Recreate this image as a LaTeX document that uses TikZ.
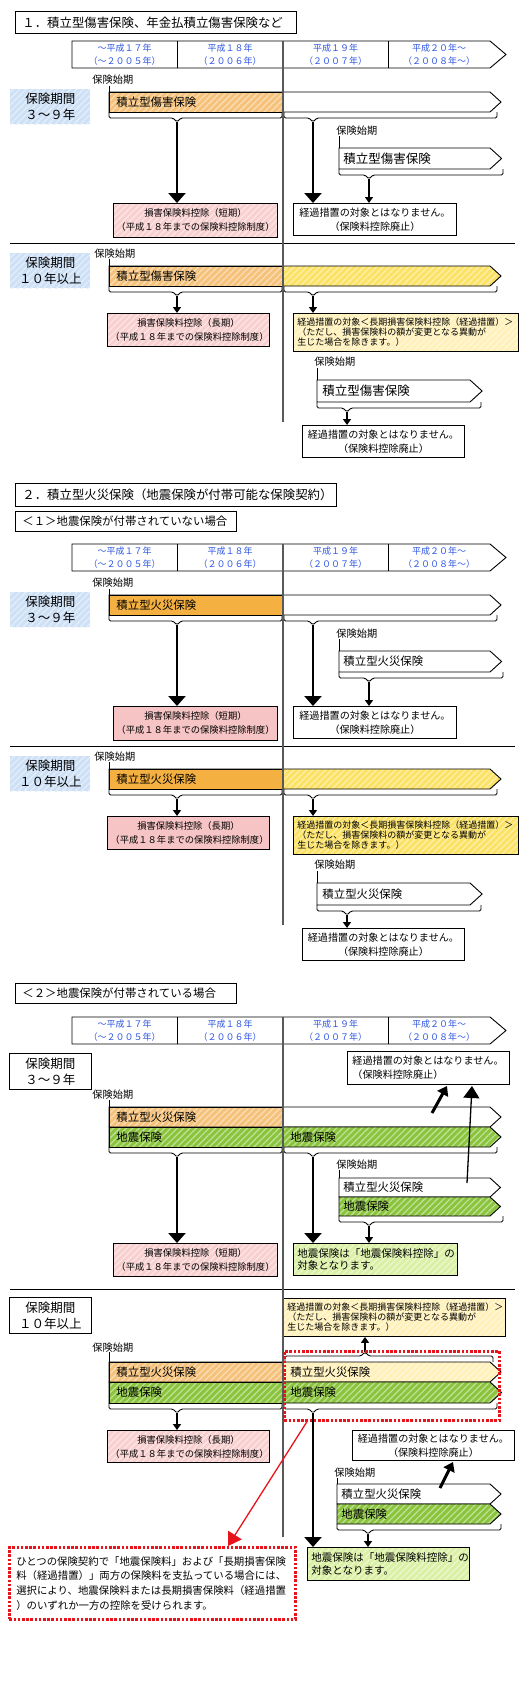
\documentclass[tikz,border=0pt]{standalone}
\usepackage{fontspec}
\setmainfont{Noto Sans CJK JP}
\usetikzlibrary{arrows.meta,patterns.meta}

\definecolor{yearblue}{RGB}{45,85,225}
\definecolor{labblue}{RGB}{205,224,246}
\definecolor{orangeL}{RGB}{246,194,122}
\definecolor{orangeS}{RGB}{244,177,66}
\definecolor{pinkL}{RGB}{249,208,208}
\definecolor{pinkS}{RGB}{246,196,196}
\definecolor{yellowS}{RGB}{252,226,100}
\definecolor{yellowL}{RGB}{255,241,185}
\definecolor{grn}{RGB}{138,196,60}
\definecolor{grnL}{RGB}{218,241,165}
\definecolor{redline}{RGB}{232,20,28}

\newcommand\yeartl[1]{%
  \path[draw, fill=white] (72,#1) -- (490,#1) -- (506,#1+13.5) -- (490,#1+27) -- (72,#1+27) -- cycle;
  \draw (177,#1) -- (177,#1+27) (388,#1) -- (388,#1+27);
  \node (y1) [yeartext] at (124.5,#1+13.5) {～平成１７年\\（～２００５年）};
  \node (y2) [yeartext] at (230,#1+13.5) {平成１８年\\（２００６年）};
  \node (y3) [yeartext] at (335.5,#1+13.5) {平成１９年\\（２００７年）};
  \node (y4) [yeartext] at (439,#1+13.5) {平成２０年～\\（２００８年～）};
}
\newcommand\tipbar[5]{%
  \path[draw, #5] (#1,#3) -- (#2,#3) -- ({#2+0.55*(#4-#3)},{(#3+#4)/2}) -- (#2,#4) -- (#1,#4) -- cycle;
}
\newcommand\bkt[5]{%
  \draw[rounded corners=1.5pt] (#1,#4) -- (#1,#4+6) -- (#3-4,#4+6) -- (#3,#4+10) -- (#3+4,#4+6) -- (#2,#4+6) -- (#2,#4);
  \coordinate (#5) at (#3,#4+10);
}
% one plan without earthquake cover: shift, kind, colours, prefix, small bar text
\newcommand\plancase[8]{%
\begin{scope}[shift={(0,#1)}, name prefix=#7-]
  \yeartl{41}
  \node (lab1) [bluelab] at (10,89) {保険期間\\３～９年};
  \node (st1) [start] at (92,80) {保険始期};
  \draw (109,86) -- (109,92);
  \tipbar{109}{490}{92}{112}{fill=white}
  \path[draw, #3] (109,92) rectangle (283,112);
  \node (b1) [bartext] at (116,102) {積立型#2保険};
  \bkt{109}{282}{177}{112}{k1}
  \bkt{284}{497}{313}{112}{k2}
  \node (st2) [start] at (336,131) {保険始期};
  \draw (339,136) -- (339,148);
  \tipbar{339}{490}{148}{169}{fill=white}
  \node (b2) [#8] at (343,158.5) {積立型#2保険};
  \bkt{339}{503}{369}{169}{k3}
  \node (p1) [box, #5, text width=158pt, minimum height=34pt] at (113,203) {損害保険料控除（短期）\\（平成１８年までの保険料控除制度）};
  \node (n1) [nbox, text width=157pt, minimum height=32pt] at (293,203) {経過措置の対象とはなりません。\\（保険料控除廃止）};
  \draw[bigarrow] (k1) -- (k1 |- p1.north);
  \draw[bigarrow] (k2) -- (k2 |- n1.north);
  \draw[smallarrow] (k3) -- (k3 |- n1.north);
  \draw (10,243) -- (515,243);
  \node (lab2) [bluelab] at (10,253) {保険期間\\１０年以上};
  \node (st3) [start] at (94,254) {保険始期};
  \draw (109,259) -- (109,266);
  \tipbar{109}{490}{266}{286}{#4}
  \path[draw, #3] (109,266) rectangle (283,286);
  \node (b3) [bartext] at (116,276) {積立型#2保険};
  \bkt{109}{282}{177}{286}{k4}
  \bkt{284}{497}{313}{286}{k5}
  \node (p2) [box, #5, text width=156pt, minimum height=33pt] at (107,313) {損害保険料控除（長期）\\（平成１８年までの保険料控除制度）};
  \node (e1) [ebox, #6, text width=217pt, minimum height=38pt] at (293,313) {経過措置の対象＜長期損害保険料控除（経過措置）＞\\（ただし、損害保険料の額が変更となる異動が\\生じた場合を除きます。）};
  \node (st4) [start] at (314,362) {保険始期};
  \draw (317,368) -- (317,380);
  \tipbar{317}{470}{380}{402}{fill=white}
  \node (b4) [#8] at (322,391) {積立型#2保険};
  \bkt{317}{481}{347}{402}{k6}
  \node (n2) [nbox, text width=156pt, minimum height=32pt] at (302,425) {経過措置の対象とはなりません。\\（保険料控除廃止）};
  \draw[smallarrow] (k4) -- (k4 |- p2.north);
  \draw[smallarrow] (k5) -- (k5 |- e1.north);
  \draw[smallarrow] (k6) -- (k6 |- n2.north);
  \draw[midline] (283,41) -- (283,422);
\end{scope}}

\begin{document}
\begin{tikzpicture}[x=1pt, y=-1pt, line width=0.9pt,
    yeartext/.style={text=yearblue, align=center, inner sep=0pt, font=\fontsize{9}{12.3}\selectfont},
    start/.style={anchor=west, inner sep=0pt, font=\fontsize{10.2}{12}\selectfont},
    bartext/.style={anchor=west, inner sep=0pt, font=\fontsize{11.4}{13}\selectfont},
    bigtext/.style={anchor=west, inner sep=0pt, font=\fontsize{12.5}{14}\selectfont},
    hatch/.style={preaction={fill=#1}, preaction={pattern={Lines[angle=45,distance=4.5pt,line width=1.3pt]}, pattern color=#1!55!white}},
    box/.style={draw, anchor=north west, inner xsep=3pt, inner ysep=0pt, align=center, font=\fontsize{9.3}{14}\selectfont},
    nbox/.style={box, font=\fontsize{10.1}{14}\selectfont},
    ebox/.style={box, align=left, inner xsep=4pt, font=\fontsize{9}{10}\selectfont},
    gbox/.style={box, hatch=grnL, align=left, inner xsep=4pt, font=\fontsize{10.5}{12.5}\selectfont},
    bluelab/.style={hatch=labblue, anchor=north west, inner sep=0pt, text width=80pt, minimum height=35pt, align=center, font=\fontsize{12.5}{16}\selectfont},
    whitelab/.style={draw, anchor=north west, inner sep=0pt, text width=82pt, minimum height=36pt, align=center, font=\fontsize{12.5}{16}\selectfont},
    titlebox/.style={draw, anchor=north west, inner xsep=7pt, inner ysep=0pt, align=left, font=\fontsize{12.4}{14}\selectfont},
    subbox/.style={titlebox, font=\fontsize{11.4}{13}\selectfont},
    midline/.style={draw=black!65, line width=1.1pt},
    bigarrow/.style={line width=2.8pt, -{Triangle[width=17pt,length=10pt]}},
    smallarrow/.style={line width=2pt, -{Triangle[width=8pt,length=6pt]}},
    thickup/.style={line width=3pt, -{Triangle[width=12pt,length=9pt]}},
    thinup/.style={line width=1.3pt, -{Triangle[width=16pt,length=12pt]}},
    reddot/.style={draw=redline, line width=2.6pt, dash pattern=on 2.6pt off 1.6pt},
    notebox/.style={reddot, anchor=north west, inner xsep=7pt, inner ysep=0pt, text width=272pt, minimum height=72pt, align=left, font=\fontsize{10.4}{14.6}\selectfont},
    redarrow/.style={draw=redline, line width=1.3pt, -{Triangle[width=16pt,length=13pt]}}]
  \useasboundingbox (0,0) rectangle (519,1700);

  \node (h1) [titlebox, text width=267pt, minimum height=22pt] at (15,11) {１．積立型傷害保険、年金払積立傷害保険など};
  \plancase{0}{傷害}{hatch=orangeL}{hatch=yellowS}{hatch=pinkL}{hatch=yellowL}{a}{bigtext}

  \node (h2) [titlebox, text width=307pt, minimum height=23pt] at (15,483) {２．積立型火災保険（地震保険が付帯可能な保険契約）};
  \node (h3) [subbox, text width=207pt, minimum height=20pt] at (15,511) {＜１＞地震保険が付帯されていない場合};
  \plancase{503}{火災}{fill=orangeS}{hatch=yellowS}{fill=pinkS}{hatch=yellowS}{b}{bartext}

  \node (h4) [subbox, text width=207pt, minimum height=20pt] at (15,983) {＜２＞地震保険が付帯されている場合};
  \begin{scope}[name prefix=c-]
    \yeartl{1017}
    \node (lab1) [whitelab] at (9,1053) {保険期間\\３～９年};
    \node (n1) [nbox, align=left, inner xsep=5pt, text width=152pt, minimum height=33pt] at (347,1051) {経過措置の対象とはなりません。\\（保険料控除廃止）};
    \node (st1) [start] at (92,1095) {保険始期};
    \draw (109,1100) -- (109,1107);
    \tipbar{109}{490}{1107}{1127}{fill=white}
    \path[draw, hatch=orangeL] (109,1107) rectangle (283,1127);
    \tipbar{109}{490}{1127}{1147}{hatch=grn}
    \path[draw, hatch=grn] (109,1127) rectangle (283,1147);
    \node (f1) [bartext] at (116,1117) {積立型火災保険};
    \node (q1) [bartext] at (116,1137) {地震保険};
    \node (q2) [bartext] at (290,1137) {地震保険};
    \bkt{109}{282}{177}{1147}{k1}
    \bkt{284}{497}{313}{1147}{k2}
    \node (st2) [start] at (336,1165) {保険始期};
    \draw (339,1170) -- (339,1178);
    \tipbar{339}{490}{1178}{1197}{fill=white}
    \tipbar{339}{490}{1197}{1216}{hatch=grn}
    \node (f2) [bartext] at (343,1187.5) {積立型火災保険};
    \node (q3) [bartext] at (343,1206.5) {地震保険};
    \bkt{339}{503}{369}{1216}{k3}
    \node (p1) [box, hatch=pinkL, text width=158pt, minimum height=33pt] at (113,1243) {損害保険料控除（短期）\\（平成１８年までの保険料控除制度）};
    \node (g1) [gbox, text width=156pt, minimum height=32pt] at (293,1243) {地震保険は「地震保険料控除」の\\対象となります。};
    \draw[bigarrow] (k1) -- (k1 |- p1.north);
    \draw[bigarrow] (k2) -- (k2 |- g1.north);
    \draw[smallarrow] (k3) -- (k3 |- g1.north);
    \coordinate (u1) at (432,1113);
    \coordinate (u2) at (447,1086);
    \coordinate (u3) at (467,1183);
    \coordinate (u4) at (472,1086);
    \draw[thickup] (u1) -- (u2);
    \draw[thinup] (u3) -- (u4);

    \draw (10,1289) -- (515,1289);
    \node (lab2) [whitelab] at (9,1297) {保険期間\\１０年以上};
    \node (e1) [ebox, hatch=yellowL, text width=214pt, minimum height=38pt] at (283,1298) {経過措置の対象＜長期損害保険料控除（経過措置）＞\\（ただし、損害保険料の額が変更となる異動が\\生じた場合を除きます。）};
    \node (st3) [start] at (92,1348) {保険始期};
    \draw (109,1352) -- (109,1362);
    \tipbar{109}{490}{1362}{1382}{hatch=yellowL}
    \path[draw, hatch=orangeL] (109,1362) rectangle (283,1382);
    \tipbar{109}{490}{1382}{1403}{hatch=grn}
    \path[draw, hatch=grn] (109,1382) rectangle (283,1403);
    \node (f3) [bartext] at (116,1372) {積立型火災保険};
    \node (f4) [bartext] at (290,1372) {積立型火災保険};
    \node (q4) [bartext] at (116,1392.5) {地震保険};
    \node (q5) [bartext] at (290,1392.5) {地震保険};
    \draw[rounded corners=1.5pt] (285,1362) -- (285,1356) -- (361,1356) -- (365,1352) -- (369,1356) -- (493,1356) -- (493,1362);
    \coordinate (k4) at (365,1352);
    \draw[smallarrow] (k4) -- (k4 |- e1.south);
    \bkt{109}{282}{177}{1403}{k5}
    \bkt{284}{497}{313}{1403}{k6}
    \node (p2) [box, hatch=pinkL, text width=156pt, minimum height=32pt] at (107,1430) {損害保険料控除（長期）\\（平成１８年までの保険料控除制度）};
    \node (n2) [nbox, text width=156pt, minimum height=30pt] at (352,1430) {経過措置の対象とはなりません。\\（保険料控除廃止）};
    \node (st4) [start] at (334,1473) {保険始期};
    \draw (337,1478) -- (337,1484);
    \tipbar{337}{490}{1484}{1504}{fill=white}
    \tipbar{337}{490}{1504}{1524}{hatch=grn}
    \node (f5) [bartext] at (341,1494) {積立型火災保険};
    \node (q6) [bartext] at (341,1514) {地震保険};
    \bkt{337}{501}{368}{1524}{k7}
    \node (g2) [gbox, text width=154pt, minimum height=33pt] at (307,1547) {地震保険は「地震保険料控除」の\\対象となります。};
    \draw[smallarrow] (k5) -- (k5 |- p2.north);
    \draw[smallarrow] (k7) -- (k7 |- g2.north);
    \draw[bigarrow] (k6) -- (k6 |- g2.north);
    \coordinate (u5) at (440,1488);
    \coordinate (u6) at (453,1462);
    \draw[thickup] (u5) -- (u6);
    \draw[midline] (283,1017) -- (283,1537);
    \node (sel) [reddot, anchor=north west, inner sep=0pt, minimum width=215pt, minimum height=69pt] at (283,1350) {};
    \node (note) [notebox] at (8,1546) {ひとつの保険契約で「地震保険料」および「長期損害保険\\料（経過措置）」両方の保険料を支払っている場合には、\\選択により、地震保険料または長期損害保険料（経過措置\\）のいずれか一方の控除を受けられます。};
    \draw[redarrow] ([xshift=24pt]sel.south west) -- ([xshift=220pt]note.north west);
  \end{scope}
\end{tikzpicture}
\end{document}
